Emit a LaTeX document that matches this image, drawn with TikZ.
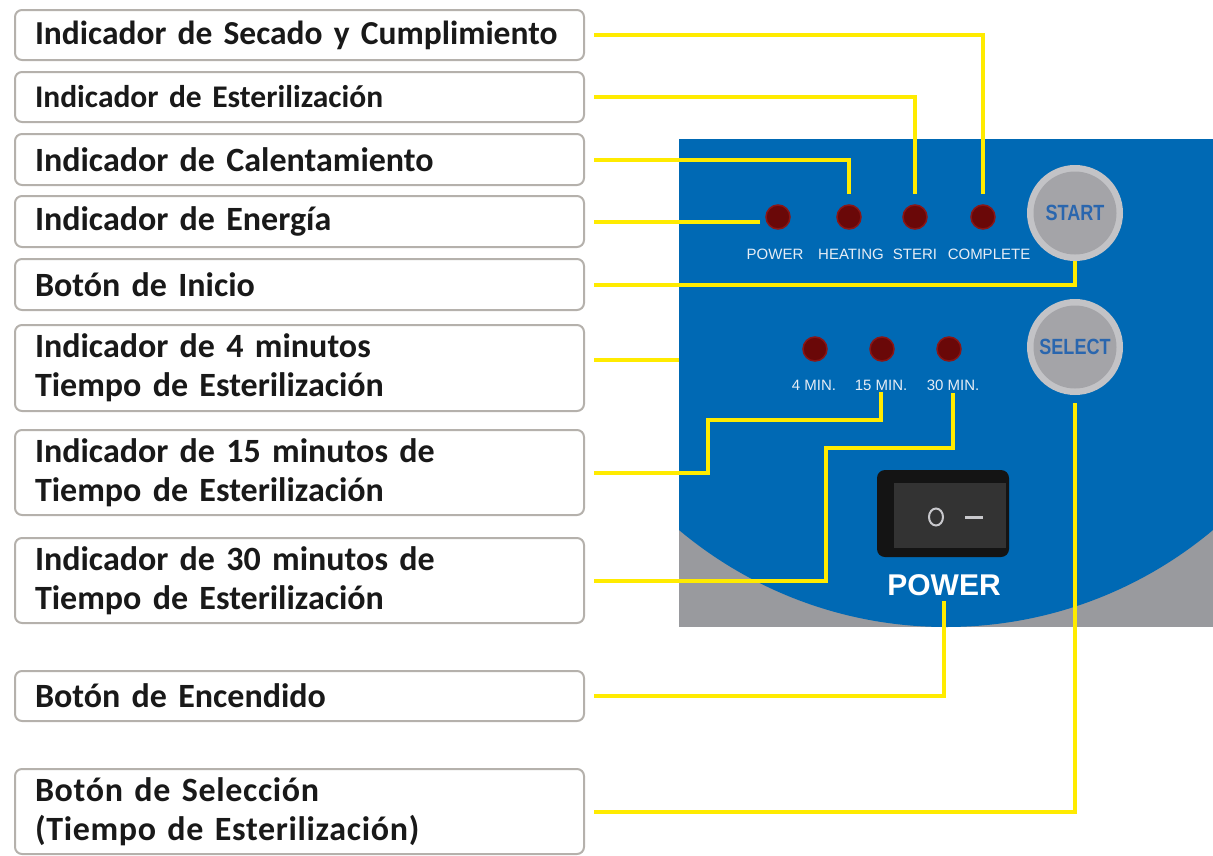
\documentclass[tikz,border=0pt]{standalone}
\usepackage{fontspec}
\setmainfont{Carlito}[WordSpace=0.85]
\newfontfamily\spacedfont{Carlito}[LetterSpace=2]
\newfontfamily\arialfont{Liberation Sans}
\newfontfamily\btnfont{Liberation Sans}[FakeStretch=0.82]
\usetikzlibrary{positioning}

\definecolor{wireyellow}{HTML}{FFEB00}
\definecolor{boxgray}{HTML}{B5B1AC}
\definecolor{panelblue}{HTML}{0069B4}
\definecolor{panelgrey}{HTML}{999A9E}
\definecolor{ledred}{HTML}{6A0808}
\definecolor{ledrim}{HTML}{8A1616}
\definecolor{ledwhite}{HTML}{E6EDF5}
\definecolor{btnring}{HTML}{C3C3C6}
\definecolor{btnfill}{HTML}{A4A4A8}
\definecolor{btntext}{HTML}{2A66AE}
\definecolor{switchblack}{HTML}{141414}
\definecolor{switchmark}{HTML}{C8C8CC}

\tikzset{
  lbl/.style={draw=boxgray, line width=2pt, rounded corners=7pt, fill=white,
    minimum width=569pt, text width=529pt, inner xsep=20pt, inner ysep=0pt,
    align=left, text=black!90, font=\fontsize{34}{39}\selectfont\bfseries},
  wire/.style={draw=wireyellow, line width=4pt},
  led/.style={circle, minimum size=24pt, inner sep=0pt, fill=ledred, draw=ledrim, line width=1.5pt},
  ledtxt/.style={text=ledwhite, inner sep=0pt, font=\arialfont\fontsize{15}{15}\selectfont},
  btnring/.style={circle, minimum size=96pt, inner sep=0pt, fill=btnring},
  btnface/.style={circle, minimum size=83pt, inner sep=0pt, fill=btnfill, text=btntext,
    font=\btnfont\bfseries\fontsize{22}{22}\selectfont},
}

\begin{document}
\begin{tikzpicture}[x=1pt,y=-1pt]
    \useasboundingbox (0,0) rectangle (1213,855);

    % panel
    \coordinate (pnl) at (679,139);
    \fill[panelgrey] (pnl) rectangle (1213,627);
    \begin{scope}
        \clip (pnl) rectangle (1213,627);
        \fill[panelblue] (946,211) circle (416);
    \end{scope}

    \node[led] (ledpow) at (778,217) {};
    \node[led] (ledheat) at (849,217) {};
    \node[led] (ledster) at (915,217) {};
    \node[led] (ledcomp) at (983,217) {};
    \node[ledtxt] (txtpow) at (775,254) {POWER};
    \node[ledtxt] (txtheat) at (851,254) {HEATING};
    \node[ledtxt] (txtster) at (915,254) {STERI};
    \node[ledtxt] (txtcomp) at (989,254) {COMPLETE};

    \node[led] (led4) at (815,349) {};
    \node[led] (led15) at (882,349) {};
    \node[led] (led30) at (949,349) {};
    \node[ledtxt] (txt4) at (814,385) {4 MIN.};
    \node[ledtxt] (txt15) at (881,385) {15 MIN.};
    \node[ledtxt] (txt30) at (953,385) {30 MIN.};

    \node[btnring] (startring) at (1075,213) {};
    \node[btnface] (start) at (1075,213) {START};
    \node[btnring] (selring) at (1075,347) {};
    \node[btnface] (select) at (1075,347) {SELECT};

    \node[fill=switchblack, rounded corners=8pt, minimum width=132pt, minimum height=87pt] (switch) at (943,513.5) {};
    \fill[black!80] (894,483) rectangle (1006,548);
    \draw[switchmark, line width=2pt] (936,517) ellipse (7 and 8.5);
    \draw[switchmark, line width=3pt] (965,517) -- (983,517);
    \node[text=white, inner sep=0pt, font=\arialfont\bfseries\fontsize{30}{30}\selectfont] (powlbl) at (944,585) {POWER};

    % labels
    \node[lbl, minimum height=50pt, font=\fontsize{33.5}{39}\selectfont\bfseries] (secado) at (299.5,35) {\mbox{Indicador de Secado y Cumplimiento}};
    \node[lbl, minimum height=50pt, font=\fontsize{31.5}{36}\selectfont\bfseries] (steri) at (299.5,97) {Indicador de Esterilización};
    \node[lbl, minimum height=51pt] (calent) at (299.5,159.5) {Indicador de Calentamiento};
    \node[lbl, minimum height=51pt] (energia) at (299.5,221.5) {Indicador de Energía};
    \node[lbl, minimum height=51pt] (inicio) at (299.5,284.5) {Botón de Inicio};
    \node[lbl, minimum height=86pt] (min4) at (299.5,368) {Indicador de 4 minutos\\Tiempo de Esterilización};
    \node[lbl, minimum height=85pt] (min15) at (299.5,472.5) {Indicador de 15 minutos de\\Tiempo de Esterilización};
    \node[lbl, minimum height=85pt] (min30) at (299.5,580.5) {Indicador de 30 minutos de\\Tiempo de Esterilización};
    \node[lbl, minimum height=50pt] (encend) at (299.5,696) {Botón de Encendido};
    \node[lbl, minimum height=85pt, font=\spacedfont\fontsize{34}{39}\selectfont\bfseries] (selecc) at (299.5,811.5) {Botón de Selección\\(Tiempo de Esterilización)};

    % connectors
    \coordinate (bend15) at (708,420);
    \coordinate (bend30) at (826,448);
    \draw[wire, shorten >=10pt] ([xshift=9pt]secado.east) -| (ledcomp.north);
    \draw[wire, shorten >=10pt] ([xshift=9pt]steri.east) -| (ledster.north);
    \draw[wire, shorten >=10pt] ([xshift=9pt]calent.east) -| (ledheat.north);
    \draw[wire] ([xshift=9pt]energia.east) -- ([xshift=-5pt]energia.east -| ledpow.west);
    \draw[wire] ([xshift=9pt]inicio.east) -| (startring.south);
    \draw[wire] ([xshift=9pt,yshift=8pt]min4.east) -- ([yshift=8pt]min4.east -| pnl);
    \draw[wire, shorten >=2pt] ([xshift=9pt]min15.east) -| (bend15) -| (txt15.south);
    \draw[wire, shorten >=2pt] ([xshift=9pt]min30.east) -| (bend30) -| (txt30.south);
    \draw[wire, shorten >=5pt] ([xshift=9pt]encend.east) -| (powlbl.south);
    \draw[wire, shorten >=8pt] ([xshift=9pt]selecc.east) -| (selring.south);
\end{tikzpicture}
\end{document}
